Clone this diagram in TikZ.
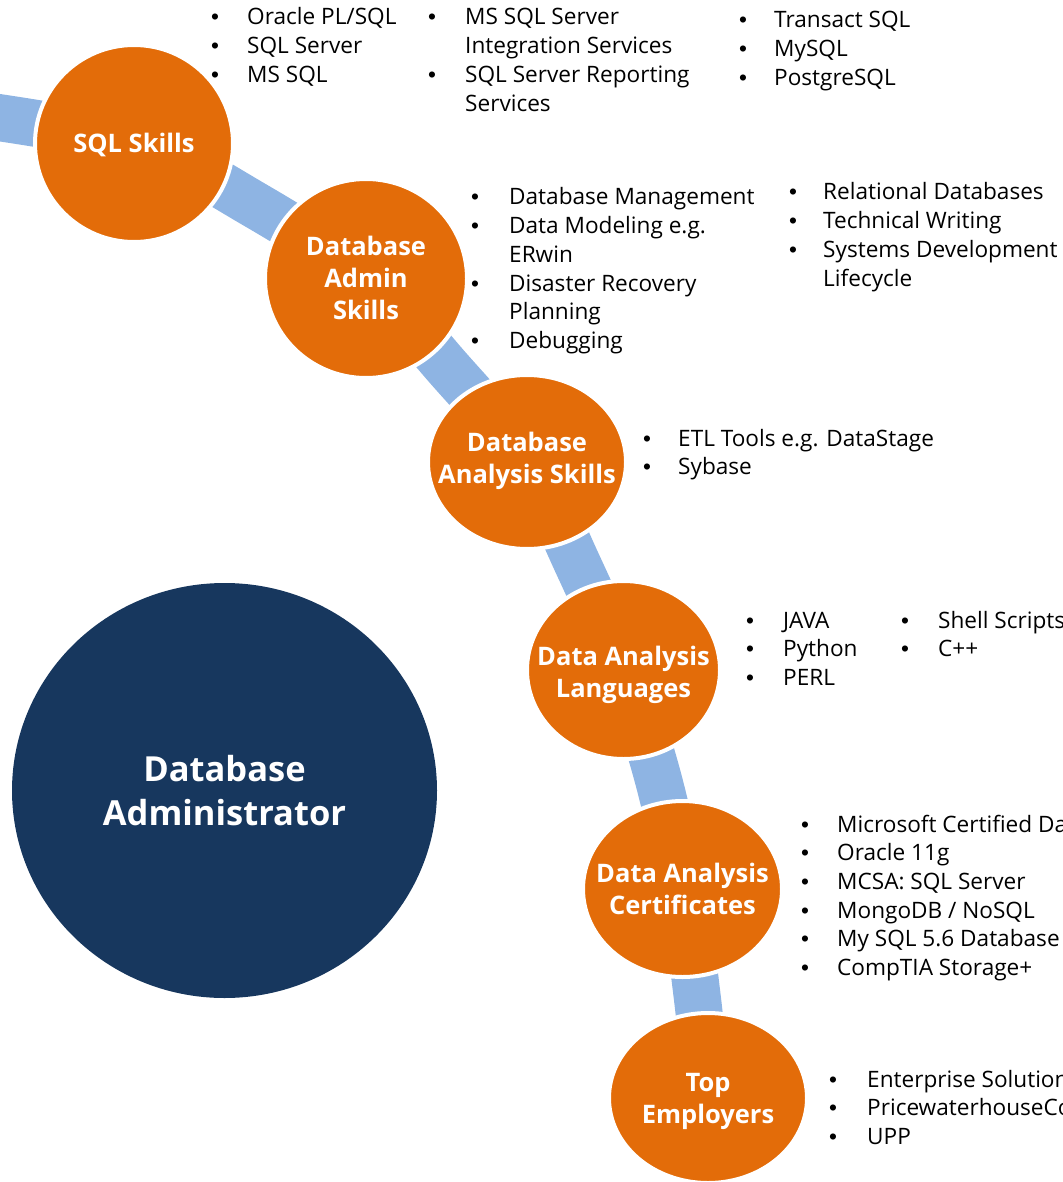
\documentclass[tikz,border=0pt]{standalone}
\usepackage{fontspec}
\setmainfont{Open Sans}
\newfontfamily\bulfont{Liberation Sans}
\usetikzlibrary{shapes.geometric,backgrounds}
\definecolor{orng}{HTML}{E36C09}
\definecolor{bandblue}{HTML}{8EB4E3}
\definecolor{navyblue}{HTML}{17375E}
\newcommand\bu{{\bulfont •}}
\newcommand\bl[2]{\begin{tabular}[t]{@{}p{#1}@{}l@{}}#2\end{tabular}}
\tikzset{
  lst/.style={anchor=base west, inner sep=0pt, text=black,
    font=\fontsize{22.6}{28.7}\selectfont},
  orb/.style={ellipse, fill=orng, draw=white, line width=4pt, inner sep=0pt},
  lbl/.style={inner sep=0pt, text=white, align=center,
    font=\bfseries\fontsize{25.5}{32}\selectfont},
  band/.style={draw=bandblue, line width=47pt},
  bigorb/.style={ellipse, fill=navyblue, inner sep=0pt},
  biglbl/.style={inner sep=0pt, text=white, align=center,
    font=\bfseries\fontsize{34.5}{44}\selectfont}
}
\begin{document}
\begin{tikzpicture}[x=1pt,y=-1pt]
\useasboundingbox (0,0) rectangle (1062,1182);
\clip (0,0) rectangle (1062,1182);

% circles
\node[orb, minimum width=198pt, minimum height=197pt] (sql) at (134,143.5) {};
\node[orb, minimum width=202pt, minimum height=199pt] (adm) at (366,278.5) {};
\node[orb, minimum width=198pt, minimum height=174pt] (ana) at (527,462) {};
\node[orb, minimum width=193pt, minimum height=178pt] (lan) at (623.5,670) {};
\node[orb, minimum width=199pt, minimum height=176pt] (cer) at (682.5,889) {};
\node[orb, minimum width=198pt, minimum height=170pt] (top) at (708,1098) {};
\node[bigorb, minimum width=425pt, minimum height=415pt] (dba) at (224.5,790.5) {};

\node[lbl] (sqlL) at ([yshift=-1pt]sql.center) {SQL Skills};
\node[lbl] (admL) at ([yshift=1pt]adm.center) {Database\\Admin\\Skills};
\node[lbl] (anaL) at ([yshift=1pt]ana.center) {Database\\Analysis Skills};
\node[lbl] (lanL) at ([yshift=-5pt]lan.center) {Data Analysis\\Languages};
\node[lbl] (cerL) at (cer.center) {Data Analysis\\Certificates};
\node[lbl] (topL) at ([yshift=-3pt]top.center) {Top\\Employers};
\node[biglbl] (dbaL) at (dba.center) {Database\\Administrator};

% band
\coordinate (b0) at (-40,112);
\coordinate (m1) at (255,205);
\coordinate (m2) at (448,368);
\coordinate (m3) at (578,565);
\coordinate (m4) at (658,778);
\coordinate (m5) at (697,995);
\begin{scope}[on background layer]
\clip (0,0) rectangle (1062,1182);
\draw[band] plot[smooth, tension=0.55] coordinates {(b0) (sql.center) (m1) (adm.center) (m2) (ana.center) (m3) (lan.center) (m4) (cer.center) (m5) (top.center)};
\end{scope}

% lists
\node[lst] (t1) at (211,25) {\bl{36pt}{\bu & Oracle PL/SQL\\ \bu & SQL Server\\ \bu & MS SQL}};
\node[lst] (t2) at (428,25) {\bl{37pt}{\bu & MS SQL Server\\ & Integration Services\\ \bu & SQL Server Reporting\\ & Services}};
\node[lst] (t3) at (739,28) {\bl{35pt}{\bu & Transact SQL\\ \bu & MySQL\\ \bu & PostgreSQL}};
\node[lst] (a1) at (471,205) {\bl{38pt}{\bu & Database Management\\ \bu & Data Modeling e.g.\\ & ERwin\\ \bu & Disaster Recovery\\ & Planning\\ \bu & Debugging}};
\node[lst] (a2) at (789,200) {\bl{34pt}{\bu & Relational Databases\\ \bu & Technical Writing\\ \bu & Systems Development\\ & Lifecycle}};
\node[lst] (n1) at (643,446) {\bl{35pt}{\bu & ETL Tools e.g. DataStage\\ \bu & Sybase}};
\node[lst] (g1) at (746,628) {\bl{37pt}{\bu & JAVA\\ \bu & Python\\ \bu & PERL}};
\node[lst] (g2) at (901,628) {\bl{37pt}{\bu & Shell Scripts\\ \bu & C++}};
\node[lst] (c1) at (801,832) {\bl{36pt}{\bu & Microsoft Certified Database Administrator\\ \bu & Oracle 11g\\ \bu & MCSA: SQL Server\\ \bu & MongoDB / NoSQL\\ \bu & My SQL 5.6 Database\\ \bu & CompTIA Storage+}};
\node[lst] (e1) at (829,1087) {\bl{38pt}{\bu & Enterprise Solutions\\ \bu & PricewaterhouseCoopers\\ \bu & UPP}};
\end{tikzpicture}
\end{document}
